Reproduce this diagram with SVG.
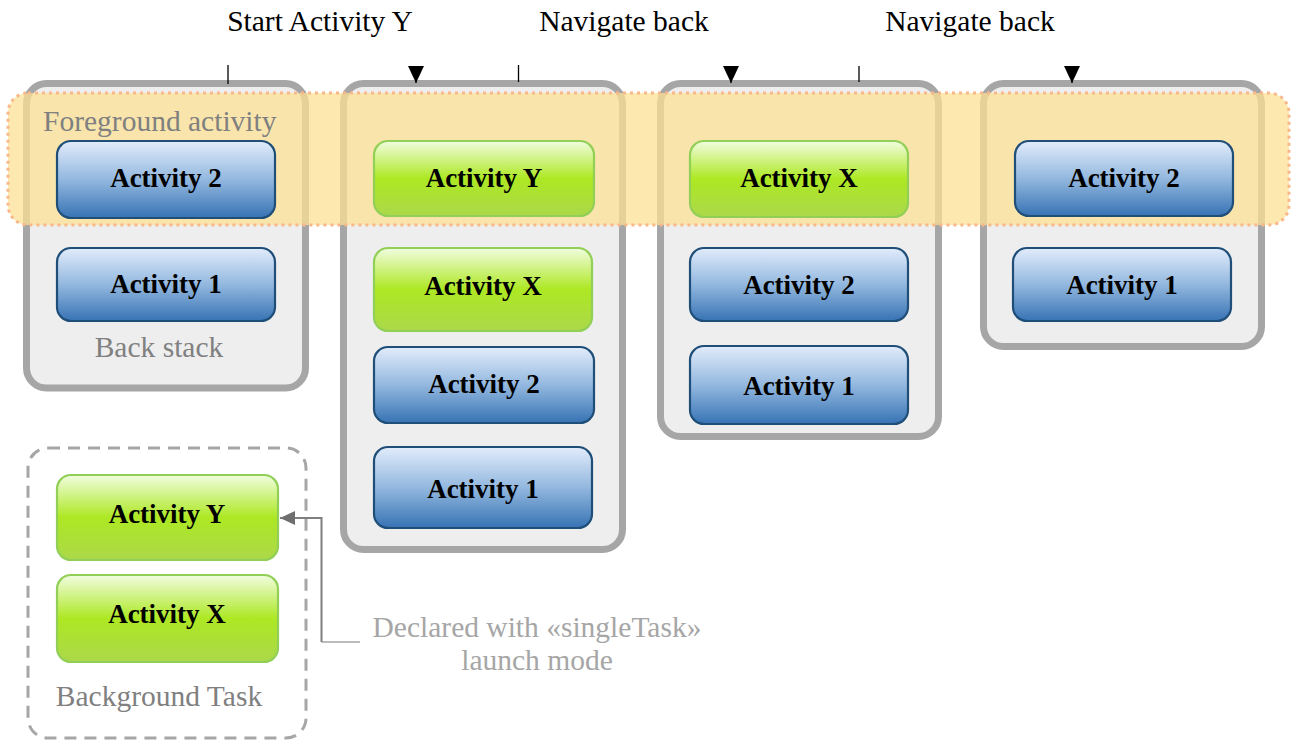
<svg xmlns="http://www.w3.org/2000/svg" width="1298" height="745" viewBox="0 0 1298 745">
<defs>
<linearGradient id="gBlue" x1="0" y1="0" x2="0" y2="1">
<stop offset="0" stop-color="#e2ecfb"/>
<stop offset="0.5" stop-color="#93b8df"/>
<stop offset="1" stop-color="#3773b4"/>
</linearGradient>
<linearGradient id="gGreen" x1="0" y1="0" x2="0" y2="1">
<stop offset="0" stop-color="#f1fde0"/>
<stop offset="0.5" stop-color="#ade823"/>
<stop offset="1" stop-color="#abd84a"/>
</linearGradient>
<marker id="arrBlack" markerUnits="userSpaceOnUse" markerWidth="17" markerHeight="16" viewBox="0 0 17 16" refX="17" refY="8" orient="auto">
<path d="M0,0 L17,8 L0,16 Z" fill="#000"/>
</marker>
<marker id="arrGray" markerUnits="userSpaceOnUse" markerWidth="15" markerHeight="14" viewBox="0 0 15 14" refX="15" refY="7" orient="auto">
<path d="M0,0 L15,7 L0,14 Z" fill="#6f6f6f"/>
</marker>
</defs>
<style>
.stack{fill:#eeeeee;stroke:#a6a6a6;stroke-width:7}
.bg{fill:none;stroke:#a6a6a6;stroke-width:3;stroke-dasharray:12 8}
.blue{fill:url(#gBlue);stroke:#1f4e79;stroke-width:2.2}
.green{fill:url(#gGreen);stroke:#92cf57;stroke-width:2.2}
.act{font-family:"Liberation Serif",serif;font-weight:bold;font-size:27px;fill:#000;text-anchor:middle}
.lbl{font-family:"Liberation Serif",serif;font-size:29.5px;fill:#808080}
.lbl2{font-family:"Liberation Serif",serif;font-size:29.5px;fill:#a6a6a6;text-anchor:middle}
.top{font-family:"Liberation Serif",serif;font-size:29.5px;fill:#000;text-anchor:middle}
.fg{fill:#fce194;fill-opacity:0.74;stroke:#f8b88a;stroke-width:3;stroke-dasharray:3 4}
</style>
<rect width="1298" height="745" fill="#ffffff"/>

<g id="stack1"><rect class="stack" x="26.5" y="83.5" width="279" height="304.5" rx="20"/></g>
<g id="stack2"><rect class="stack" x="343.5" y="83.5" width="279" height="466" rx="20"/></g>
<g id="stack3"><rect class="stack" x="660.5" y="83.5" width="278" height="353" rx="20"/></g>
<g id="stack4"><rect class="stack" x="983.5" y="83.5" width="278" height="263" rx="20"/></g>
<g id="background-task"><rect class="bg" x="28" y="448" width="278" height="290" rx="20"/>
<text class="lbl" x="159" y="706" text-anchor="middle">Background Task</text></g>

<g id="foreground-band"><rect class="fg" x="8" y="93" width="1281" height="132" rx="20"/></g>

<g id="labels">
<text class="lbl" x="43" y="131">Foreground activity</text>
<text class="lbl" x="159" y="357" text-anchor="middle">Back stack</text>
<text class="top" x="320" y="31">Start Activity Y</text>
<text class="top" x="624" y="31">Navigate back</text>
<text class="top" x="970" y="31">Navigate back</text>
<text class="lbl2" x="537" y="637">Declared with «singleTask»</text>
<text class="lbl2" x="537" y="670">launch mode</text>
</g>

<g id="s1-a2"><rect class="blue" x="57" y="141" width="218" height="77" rx="14"/><text class="act" x="166" y="187">Activity 2</text></g>
<g id="s1-a1"><rect class="blue" x="57" y="248" width="218" height="73" rx="14"/><text class="act" x="166" y="293">Activity 1</text></g>

<g id="s2-ay"><rect class="green" x="374" y="141" width="220" height="75" rx="14"/><text class="act" x="484" y="187">Activity Y</text></g>
<g id="s2-ax"><rect class="green" x="374" y="248" width="218" height="83" rx="14"/><text class="act" x="483" y="295">Activity X</text></g>
<g id="s2-a2"><rect class="blue" x="374" y="347" width="220" height="76" rx="14"/><text class="act" x="484" y="393">Activity 2</text></g>
<g id="s2-a1"><rect class="blue" x="374" y="447" width="218" height="81" rx="14"/><text class="act" x="483" y="498">Activity 1</text></g>

<g id="s3-ax"><rect class="green" x="690" y="141" width="218" height="76" rx="14"/><text class="act" x="799" y="187">Activity X</text></g>
<g id="s3-a2"><rect class="blue" x="690" y="248" width="218" height="73" rx="14"/><text class="act" x="799" y="294">Activity 2</text></g>
<g id="s3-a1"><rect class="blue" x="690" y="346" width="218" height="78" rx="14"/><text class="act" x="799" y="395">Activity 1</text></g>

<g id="s4-a2"><rect class="blue" x="1015" y="141" width="218" height="75" rx="14"/><text class="act" x="1124" y="187">Activity 2</text></g>
<g id="s4-a1"><rect class="blue" x="1013" y="248" width="218" height="73" rx="14"/><text class="act" x="1122" y="294">Activity 1</text></g>

<g id="bg-ay"><rect class="green" x="57" y="475" width="221" height="85" rx="14"/><text class="act" x="167" y="523">Activity Y</text></g>
<g id="bg-ax"><rect class="green" x="57" y="575" width="221" height="87" rx="14"/><text class="act" x="167" y="623">Activity X</text></g>

<g id="connectors" fill="none">
<line x1="228" y1="65" x2="228" y2="84" stroke="#000" stroke-width="1.3"/>
<line x1="416" y1="66" x2="416" y2="83" stroke="#000" stroke-width="1.3" marker-end="url(#arrBlack)"/>
<line x1="518.5" y1="65" x2="518.5" y2="82" stroke="#000" stroke-width="1.3"/>
<line x1="731" y1="66" x2="731" y2="83" stroke="#000" stroke-width="1.3" marker-end="url(#arrBlack)"/>
<line x1="859" y1="66" x2="859" y2="82" stroke="#000" stroke-width="1.3"/>
<line x1="1072" y1="66" x2="1072" y2="83" stroke="#000" stroke-width="1.3" marker-end="url(#arrBlack)"/>
<path d="M360,642 L321.5,642" stroke="#a6a6a6" stroke-width="1.5"/>
<path d="M321.5,642 L321.5,518 L280,518" stroke="#7f7f7f" stroke-width="2" marker-end="url(#arrGray)"/>
</g>
</svg>
